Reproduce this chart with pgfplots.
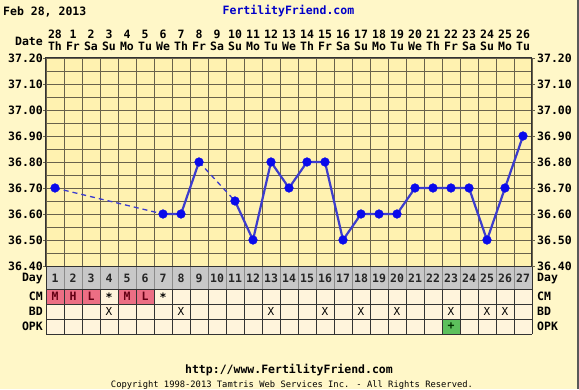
\documentclass[border=0pt]{standalone}
\usepackage{pgfplots}
\pgfplotsset{compat=1.18}
\usepackage{fontspec}
\setmainfont{DejaVu Sans Mono}
\definecolor{bgout}{RGB}{255,247,200}
\definecolor{bgplot}{RGB}{255,242,176}
\definecolor{cell}{RGB}{255,244,220}
\definecolor{gridc}{RGB}{105,98,75}
\definecolor{dayrow}{RGB}{200,200,200}
\definecolor{pinkc}{RGB}{236,110,132}
\definecolor{greenc}{RGB}{92,192,92}
\definecolor{linec}{RGB}{60,60,205}
\definecolor{markc}{RGB}{10,10,235}
\definecolor{ffblue}{RGB}{0,0,200}
\definecolor{cmtext}{RGB}{100,0,20}
\newcommand{\fnt}{\fontsize{11.5}{12}\selectfont\bfseries}
\begin{document}
\begin{tikzpicture}[x=1pt,y=1pt]
\useasboundingbox (0,0) rectangle (579,389);
\fill[bgout] (0,0) rectangle (579,389);
\fill[black!65] (577,0) rectangle (579,389);
% header
\node[anchor=west,font=\fnt,inner sep=0pt] at (3,377.5) {Feb 28, 2013};
\node[font=\fnt,text=ffblue,inner sep=0pt] at (288.5,377.5) {FertilityFriend.com};
\node[anchor=east,font=\fnt,inner sep=0pt] at (43,348) {Date};
\foreach \i/\d/\w in {1/28/Th,2/1/Fr,3/2/Sa,4/3/Su,5/4/Mo,6/5/Tu,7/6/We,8/7/Th,9/8/Fr,10/9/Sa,11/10/Su,12/11/Mo,13/12/Tu,14/13/We,15/14/Th,16/15/Fr,17/16/Sa,18/17/Su,19/18/Mo,20/19/Tu,21/20/We,22/21/Th,23/22/Fr,24/23/Sa,25/24/Su,26/25/Mo,27/26/Tu}{
  \node[font=\fnt,inner sep=0pt] at ({37+18*\i},354.5) {\d};
  \node[font=\fnt,inner sep=0pt] at ({37+18*\i},342.5) {\w};
}
% table below the chart
\fill[dayrow] (46,100) rectangle (532,123);
\fill[cell] (46,55) rectangle (532,100);
\foreach \i in {1,2,3,5,6}{\fill[pinkc] ({46+18*(\i-1)},85) rectangle ({46+18*\i},100);}
\fill[greenc] ({46+18*22},55) rectangle ({46+18*23},70);
\foreach \k in {1,...,26}{
  \draw[black!45,line width=0.8pt] ({46+18*\k},100) -- ({46+18*\k},123);
  \draw[black!80,line width=0.8pt] ({46+18*\k},55) -- ({46+18*\k},100);
}
\foreach \yy in {55,70,85,100}{\draw[black!80,line width=0.8pt] (46,\yy) -- (532,\yy);}
\draw[black!80,line width=0.8pt] (46,55) -- (46,123) (532,55) -- (532,123);
\foreach \i in {1,...,27}{\node[font=\fnt,inner sep=0pt,text=black!85] at ({37+18*\i},111) {\i};}
\foreach \i/\t in {1/M,2/H,3/L,5/M,6/L}{\node[font=\fnt,inner sep=0pt,text=cmtext] at ({37+18*\i},92.5) {\t};}
\foreach \i in {4,7}{\node[font=\fnt,inner sep=0pt] at ({37+18*\i},91.5) {*};}
\foreach \i in {4,8,13,16,18,20,23,25,26}{\node[font=\fontsize{11}{12}\selectfont,inner sep=0pt] at ({37+18*\i},77.5) {X};}
\node[font=\fnt,inner sep=0pt,text=black!80!green] at ({37+18*23},62.5) {+};
\foreach \y/\t in {111/Day,92.5/CM,77.5/BD,62.5/OPK}{
  \node[anchor=east,font=\fnt,inner sep=0pt] at (43,\y) {\t};
  \node[anchor=west,font=\fnt,inner sep=0pt] at (537,\y) {\t};
}
% footer
\node[font=\fnt,inner sep=0pt] at (289,19) {http://www.FertilityFriend.com};
\node[font=\fontsize{8.8}{9}\selectfont,inner sep=0pt] at (292,4) {Copyright 1998-2013 Tamtris Web Services Inc. - All Rights Reserved.};
% chart
\begin{axis}[at={(46pt,123pt)}, anchor=south west, scale only axis,
  width=486pt, height=208pt,
  xmin=0.5, xmax=27.5, ymin=36.4, ymax=37.2,
  axis background/.style={fill=bgplot},
  xtick={0.5,1.5,2.5,3.5,4.5,5.5,6.5,7.5,8.5,9.5,10.5,11.5,12.5,13.5,14.5,15.5,16.5,17.5,18.5,19.5,20.5,21.5,22.5,23.5,24.5,25.5,26.5,27.5},
  xticklabel=\empty, xmajorgrids,
  ytick={36.4,36.5,36.6,36.7,36.8,36.9,37.0,37.1,37.2},
  minor ytick={36.45,36.55,36.65,36.75,36.85,36.95,37.05,37.15},
  ymajorgrids, yminorgrids,
  grid style={gridc,line width=0.8pt},
  minor grid style={gridc,line width=0.8pt},
  axis line style={black!80,line width=1pt},
  xtick style={draw=none},
  ytick style={draw=gridc,line width=0.8pt},
  tick align=outside, major tick length=3pt, minor tick length=0pt,
  ytick pos=both,
  yticklabel pos=left,
  yticklabel style={font=\fnt,inner sep=0pt},
  /pgf/number format/.cd, fixed, fixed zerofill, precision=2, assume math mode=true]
\addplot[linec,dashed,line width=1.3pt,dash pattern=on 5pt off 4pt] coordinates {(1,36.70) (7,36.60)};
\addplot[linec,dashed,line width=1.3pt,dash pattern=on 5pt off 4pt] coordinates {(9,36.80) (11,36.65)};
\addplot[linec,line width=2.2pt,mark=*,mark size=4.4pt,mark options={solid,fill=markc,draw=markc,line width=0.3pt},unbounded coords=jump] coordinates {
(1,36.70) (2,nan) (7,36.60) (8,36.60) (9,36.80) (10,nan) (11,36.65) (12,36.50) (13,36.80) (14,36.70) (15,36.80) (16,36.80) (17,36.50) (18,36.60) (19,36.60) (20,36.60) (21,36.70) (22,36.70) (23,36.70) (24,36.70) (25,36.50) (26,36.70) (27,36.90)};
\end{axis}
\begin{axis}[at={(46pt,123pt)}, anchor=south west, scale only axis,
  width=486pt, height=208pt,
  xmin=0.5, xmax=27.5, ymin=36.4, ymax=37.2,
  hide x axis, axis line style={draw=none},
  ytick={36.4,36.5,36.6,36.7,36.8,36.9,37.0,37.1,37.2},
  ytick style={draw=none},
  yticklabel pos=right,
  yticklabel style={font=\fnt,inner sep=0pt,xshift=2pt},
  tick align=outside, major tick length=3pt,
  /pgf/number format/.cd, fixed, fixed zerofill, precision=2, assume math mode=true]
\end{axis}
\end{tikzpicture}
\end{document}
